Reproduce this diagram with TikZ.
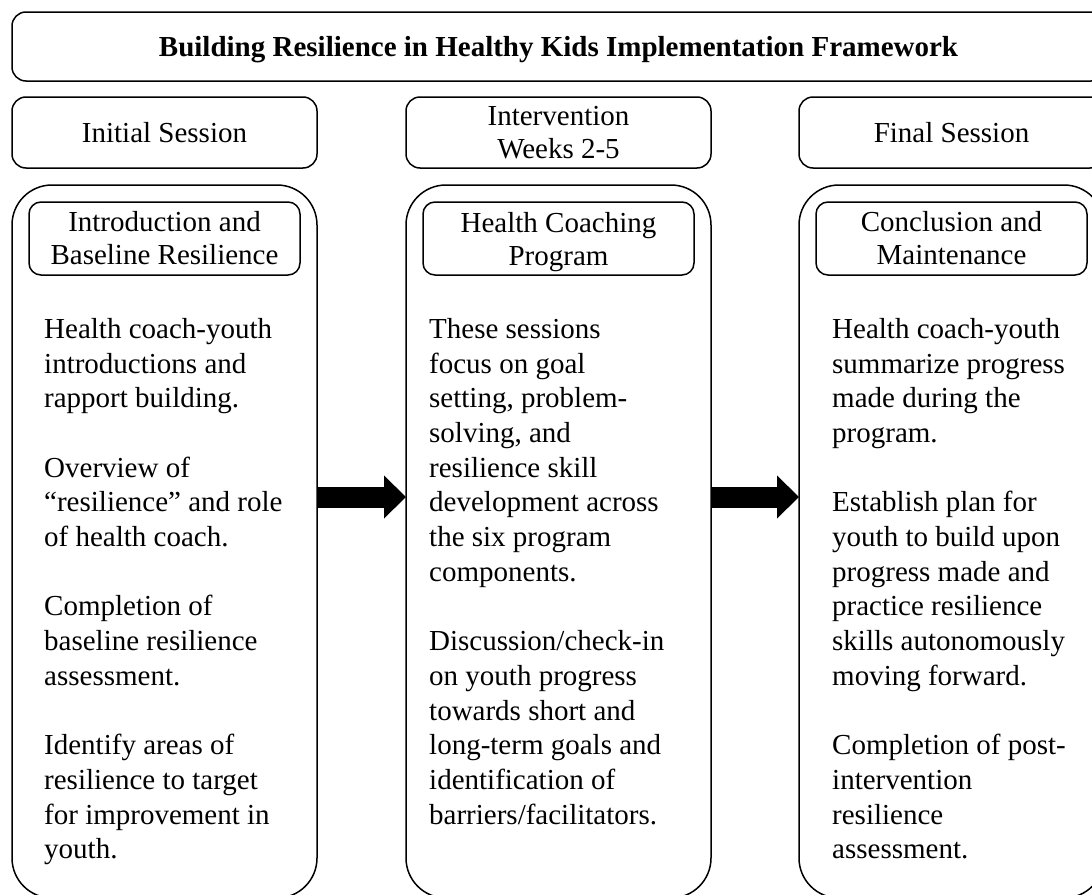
\documentclass[tikz,border=0pt]{standalone}
\usepackage{fontspec}
\setmainfont{Liberation Serif}
\usepackage{tikz}
\usetikzlibrary{arrows.meta,positioning}
\tikzstyle{titlebox} = [rectangle, draw, line width=1.5pt, rounded corners=14pt,
    minimum width=1093pt, minimum height=69pt, outer sep=0pt, text depth=0pt,
    font=\fontsize{29}{34.7}\selectfont\bfseries]
\tikzstyle{headbox} = [rectangle, draw, line width=1.5pt, rounded corners=14pt,
    minimum width=305pt, minimum height=71pt, align=center, outer sep=0pt,
    font=\fontsize{29}{33}\selectfont]
\tikzstyle{column} = [rectangle, draw, line width=1.5pt, rounded corners=40pt,
    minimum width=305pt, minimum height=713pt, outer sep=0pt]
\tikzstyle{stagebox} = [rectangle, draw, line width=1.5pt, rounded corners=12pt,
    minimum width=271pt, minimum height=73pt, align=center, outer sep=0pt,
    font=\fontsize{29}{33}\selectfont]
\tikzstyle{bodytext} = [align=left, inner sep=0pt]
\tikzstyle{line} = [draw, line width=21pt,
    -{Triangle[length=22pt, width=43pt, line width=0pt]}]

\begin{document}
\begin{tikzpicture}[x=1pt, y=-1pt, font=\fontsize{29}{34.7}\selectfont]
    \useasboundingbox (0,0) rectangle (1092,894);
    \clip (0,0) rectangle (1092,894);
    % Place nodes
    \node [titlebox] (title) at (558.5,46.5)
        {Building Resilience in Healthy Kids Implementation Framework};
    \node [headbox, anchor=north west] (initial) at (12,97) {Initial Session};
    \node [headbox, right=89pt of initial] (interv) {Intervention\\Weeks 2-5};
    \node [headbox, right=88pt of interv] (final) {Final Session};
    \node [column, below=17pt of initial] (lcol) {};
    \node [column, below=17pt of interv] (mcol) {};
    \node [column, below=17pt of final] (rcol) {};
    \node [stagebox, below=17pt of lcol.north] (lstage) {Introduction and\\Baseline Resilience};
    \node [stagebox, below=17pt of mcol.north] (mstage) {Health Coaching\\\smash{Program}};
    \node [stagebox, below=17pt of rcol.north] (rstage) {Conclusion and\\Maintenance};
    \node [bodytext, below right=43pt and 15pt of lstage.south west] (ltext) {%
        Health coach-youth\\
        introductions and\\
        rapport building.\\[34.7pt]
        Overview of\\
        “resilience” and role\\
        of health coach.\\[34.7pt]
        Completion of\\
        baseline resilience\\
        assessment.\\[34.7pt]
        Identify areas of\\
        resilience to target\\
        for improvement in\\
        youth.};
    \node [bodytext, below right=43pt and 6pt of mstage.south west] (mtext) {%
        These sessions\\
        focus on goal\\
        setting, problem-\\
        solving, and\\
        resilience skill\\
        development across\\
        the six program\\
        components.\\[34.7pt]
        Discussion/check-in\\
        on youth progress\\
        towards short and\\
        long-term goals and\\
        identification of\\
        barriers/facilitators.};
    \node [bodytext, below right=43pt and 16pt of rstage.south west] (rtext) {%
        Health coach-youth\\
        summarize progress\\
        made during the\\
        program.\\[34.7pt]
        Establish plan for\\
        youth to build upon\\
        progress made and\\
        practice resilience\\
        skills autonomously\\
        moving forward.\\[34.7pt]
        Completion of post-\\
        intervention\\
        resilience\\
        assessment.};
    % Draw edges
    \path [line] ([yshift=44.5pt]lcol.east) -- ([yshift=44.5pt]mcol.west);
    \path [line] ([yshift=44.5pt]mcol.east) -- ([yshift=44.5pt]rcol.west);
\end{tikzpicture}
\end{document}
